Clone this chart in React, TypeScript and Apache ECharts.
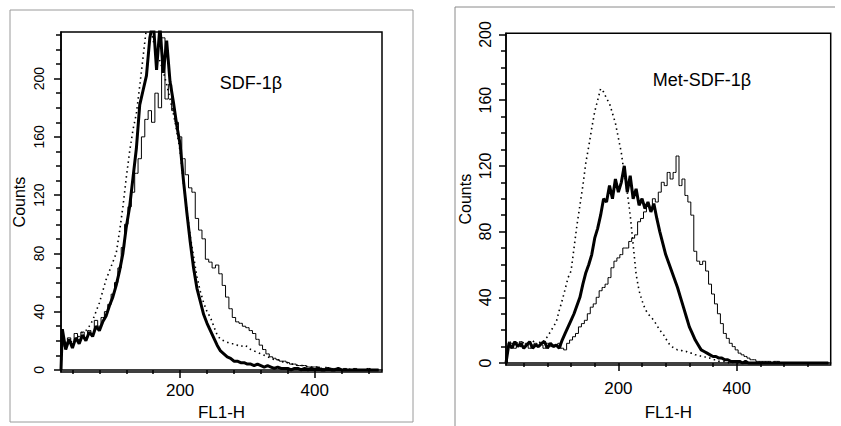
import React, { useEffect, useRef } from "react";
import * as echarts from "echarts";

// ---------- Left panel (SDF-1β) ----------
const leftChannels = [
  23, 25, 30, 35, 40, 45, 50, 55, 60, 65,
  70, 75, 80, 85, 90, 95, 100, 105, 110, 115,
  120, 125, 130, 135, 140, 145, 150, 155, 160, 165,
  170, 175, 180, 185, 190, 195, 200, 205, 210, 215,
  220, 225, 230, 235, 240, 245, 250, 255, 260, 265,
  270, 275, 280, 285, 290, 295, 300, 305, 310, 315,
  320, 325, 330, 335, 340, 345, 350, 355, 360, 365,
  370, 375, 380, 385, 390, 395, 400, 405, 410, 415,
  420, 425, 430, 435, 440, 445, 450, 455, 460, 465,
  470, 475, 480, 485, 490, 495,
];
const leftThick = [
  0, 28, 14, 21, 15, 22, 18, 24, 20, 26,
  23, 30, 27, 33, 37, 44, 50, 58, 68, 80,
  98, 112, 132, 152, 182, 192, 202, 228, 240, 206,
  236, 204, 226, 198, 184, 168, 155, 130, 108, 88,
  70, 56, 47, 38, 32, 27, 22, 17, 13, 11,
  9, 8, 6, 6, 5, 5, 4, 4, 3, 4,
  3, 2, 3, 2, 1, 2, 1, 1, 1, 0,
  1, 1, 0, 1, 0, 1, 0, 1, 0, 0,
  1, 0, 0, 1, 0, 0, 0, 0, 0, 0,
  0, 0, 0, 0, 0, 0,
];
const leftDotted = [
  0, 22, 18, 20, 19, 22, 23, 26, 27, 30,
  34, 40, 46, 54, 62, 68, 74, 80, 95, 112,
  132, 150, 165, 176, 195, 215, 235, 238, 226, 218,
  212, 205, 196, 186, 176, 164, 150, 128, 110, 92,
  78, 64, 54, 46, 40, 36, 30, 24, 21, 20,
  19, 18, 18, 17, 16, 17, 16, 14, 13, 12,
  11, 10, 9, 8, 7, 7, 6, 5, 5, 4,
  4, 3, 3, 3, 2, 2, 2, 2, 1, 2,
  1, 1, 1, 0, 1, 0, 0, 1, 0, 0,
  0, 0, 0, 0, 0, 0,
];
const leftThin = [
  0, 20, 16, 22, 18, 25, 21, 26, 22, 27,
  25, 34, 30, 36, 40, 45, 52, 60, 70, 84,
  100, 112, 122, 135, 145, 160, 172, 178, 170, 190,
  180, 228, 186, 196, 178, 170, 160, 145, 134, 125,
  122, 104, 96, 90, 76, 74, 70, 72, 66, 58,
  50, 42, 36, 33, 32, 30, 29, 27, 25, 21,
  17, 14, 11, 9, 8, 7, 6, 6, 5, 4,
  4, 3, 3, 3, 2, 2, 2, 2, 1, 1,
  1, 1, 1, 1, 0, 1, 0, 0, 1, 0,
  0, 0, 1, 0, 0, 0,
];

// ---------- Right panel (Met-SDF-1β) ----------
const rightChannels = [
  10, 15, 20, 25, 30, 35, 40, 45, 50, 55,
  60, 65, 70, 75, 80, 85, 90, 95, 100, 105,
  110, 115, 120, 125, 130, 135, 140, 145, 150, 155,
  160, 165, 170, 175, 180, 185, 190, 195, 200, 205,
  210, 215, 220, 225, 230, 235, 240, 245, 250, 255,
  260, 265, 270, 275, 280, 285, 290, 295, 300, 305,
  310, 315, 320, 325, 330, 335, 340, 345, 350, 355,
  360, 365, 370, 375, 380, 385, 390, 395, 400, 405,
  410, 415, 420, 425, 430, 435, 440, 445, 450, 455,
  460, 465, 470, 475, 480, 485, 490, 495, 500, 505,
  510, 515, 520, 525, 530, 535, 540, 545, 550, 555,
];
const rightThick = [
  0, 12, 9, 13, 10, 12, 9, 11, 13, 9,
  11, 10, 12, 13, 9, 12, 10, 11, 9, 14,
  18, 22, 26, 30, 35, 40, 48, 55, 60, 66,
  76, 82, 90, 100, 98, 108, 100, 112, 104, 110,
  120, 104, 114, 100, 106, 96, 100, 94, 98, 92,
  97, 88, 80, 73, 66, 61, 56, 51, 46, 40,
  34, 28, 22, 18, 14, 11, 8, 7, 6, 5,
  4, 4, 3, 3, 2, 2, 1, 1, 1, 1,
  0, 1, 0, 0, 0, 0, 0, 0, 0, 0,
  0, 0, 0, 0, 0, 0, 0, 0, 0, 0,
  0, 0, 0, 0, 0, 0, 0, 0, 0, 0,
];
const rightDotted = [
  0, 14, 11, 13, 12, 10, 13, 11, 12, 14,
  11, 13, 12, 14, 16, 19, 22, 25, 32, 38,
  45, 52, 56, 70, 84, 96, 108, 122, 132, 143,
  153, 160, 167, 165, 161, 158, 152, 146, 137, 128,
  115, 104, 90, 72, 54, 44, 38, 33, 30, 28,
  26, 23, 20, 18, 15, 12, 10, 9, 8, 8,
  7, 7, 6, 6, 5, 5, 4, 4, 3, 3,
  2, 2, 1, 1, 1, 0, 1, 0, 0, 0,
  0, 0, 0, 0, 0, 0, 0, 0, 0, 0,
  0, 0, 0, 0, 0, 0, 0, 0, 0, 0,
  0, 0, 0, 0, 0, 0, 0, 0, 0, 0,
];
const rightThin = [
  0, 10, 12, 9, 11, 13, 10, 12, 9, 11,
  12, 10, 11, 9, 12, 10, 11, 10, 12, 9,
  8, 12, 14, 16, 18, 22, 24, 26, 30, 34,
  36, 40, 44, 46, 48, 52, 58, 62, 64, 66,
  70, 70, 74, 76, 78, 86, 88, 92, 96, 94,
  100, 98, 104, 110, 108, 116, 112, 116, 126, 108,
  112, 102, 98, 90, 68, 62, 60, 62, 56, 48,
  42, 36, 30, 24, 18, 15, 12, 10, 8, 6,
  5, 4, 3, 2, 2, 1, 1, 1, 1, 1,
  0, 1, 1, 0, 0, 0, 0, 0, 0, 0,
  0, 0, 0, 0, 0, 0, 0, 0, 0, 0,
];

// ---------- Axis ticks / labels ----------
const xMajor = [200, 400];
const leftXMinor = [40, 80, 120, 160, 240, 280, 320, 360, 440, 480];
const rightXMinor = [40, 80, 120, 160, 240, 280, 320, 360, 440, 480, 520];
const yMajor = [0, 40, 80, 120, 160, 200];
const leftYMinor = [10, 20, 30, 50, 60, 70, 90, 100, 110, 130, 140, 150, 170, 180, 190, 210, 220, 230];
const rightYMinor = [10, 20, 30, 50, 60, 70, 90, 100, 110, 130, 140, 150, 170, 180, 190];

const FONT = "'Liberation Sans', Arial, Helvetica, sans-serif";

const pairs = (xs: number[], ys: number[]) => xs.map((x, i) => [x, ys[i]]);

function majorX(grid: number, min: number, max: number, gap: number, margin: number) {
  return {
    type: "value", gridIndex: grid, min, max, position: "bottom",
    splitLine: { show: false },
    axisLine: { show: true, lineStyle: { color: "#000", width: 1.5 } },
    axisTick: { show: true, customValues: xMajor, length: 8, lineStyle: { color: "#000", width: 1.5 } },
    axisLabel: { show: true, customValues: xMajor, fontSize: 17, color: "#000", fontFamily: FONT, margin },
    name: "FL1-H", nameLocation: "middle", nameGap: gap,
    nameTextStyle: { fontSize: 17, color: "#000", fontFamily: FONT },
  };
}
function minorX(grid: number, min: number, max: number, vals: number[]) {
  return {
    type: "value", gridIndex: grid, min, max, position: "bottom",
    splitLine: { show: false },
    axisLine: { show: false },
    axisTick: { show: true, customValues: vals, length: 4, lineStyle: { color: "#000", width: 1.5 } },
    axisLabel: { show: false },
  };
}
function majorY(grid: number, min: number, max: number, fs: number, margin: number, gap: number) {
  return {
    type: "value", gridIndex: grid, min, max, position: "left",
    splitLine: { show: false },
    axisLine: { show: true, lineStyle: { color: "#000", width: 1.5 } },
    axisTick: { show: true, customValues: yMajor, length: 7, lineStyle: { color: "#000", width: 1.5 } },
    axisLabel: { show: true, customValues: yMajor, rotate: 90, fontSize: fs, color: "#000", fontFamily: FONT, margin },
    name: "Counts", nameLocation: "middle", nameGap: gap,
    nameTextStyle: { fontSize: 16, color: "#000", fontFamily: FONT },
  };
}
function minorY(grid: number, min: number, max: number, vals: number[]) {
  return {
    type: "value", gridIndex: grid, min, max, position: "left",
    splitLine: { show: false },
    axisLine: { show: false },
    axisTick: { show: true, customValues: vals, length: 5, lineStyle: { color: "#000", width: 1.5 } },
    axisLabel: { show: false },
  };
}

function line(name: string, xi: number, yi: number, data: number[][], kind: "thick" | "thin" | "dot") {
  const lineStyle: any =
    kind === "thick" ? { color: "#000", width: 3 } :
    kind === "thin" ? { color: "#000", width: 1 } :
    { color: "#000", width: 1.6, type: [1.5, 3.5] };
  return {
    name, type: "line", xAxisIndex: xi, yAxisIndex: yi, data,
    showSymbol: false, symbol: "none", clip: true,
    step: kind === "thin" ? "middle" : false,
    lineStyle, z: kind === "thick" ? 5 : kind === "thin" ? 4 : 3,
  };
}

export default function App() {
  const ref = useRef<HTMLDivElement>(null);
  useEffect(() => {
    if (!ref.current) return;
    const chart = echarts.init(ref.current, null, { renderer: "svg" });
    const LX: [number, number] = [23, 500];
    const RX: [number, number] = [10, 559];
    const LY: [number, number] = [-1.5, 232];
    const RY: [number, number] = [-1.2, 200.7];
    chart.setOption({
      animation: false,
      backgroundColor: "#fff",
      grid: [
        { left: 61, top: 32, width: 321, height: 345.7, show: true, borderColor: "#000", borderWidth: 1.5, backgroundColor: "transparent" },
        { left: 506, top: 33.3, width: 324.7, height: 339.7, show: true, borderColor: "#000", borderWidth: 1.5, backgroundColor: "transparent" },
      ],
      xAxis: [
        majorX(0, LX[0], LX[1], 31, 10),
        minorX(0, LX[0], LX[1], leftXMinor),
        majorX(1, RX[0], RX[1], 39, 15),
        minorX(1, RX[0], RX[1], rightXMinor),
      ],
      yAxis: [
        majorY(0, LY[0], LY[1], 14, 15, 34),
        minorY(0, LY[0], LY[1], leftYMinor),
        majorY(1, RY[0], RY[1], 16, 13, 33),
        minorY(1, RY[0], RY[1], rightYMinor),
      ],
      series: [
        line("SDF-1β dotted", 0, 0, pairs(leftChannels, leftDotted), "dot"),
        line("SDF-1β thin", 0, 0, pairs(leftChannels, leftThin), "thin"),
        line("SDF-1β thick", 0, 0, pairs(leftChannels, leftThick), "thick"),
        line("Met-SDF-1β dotted", 2, 2, pairs(rightChannels, rightDotted), "dot"),
        line("Met-SDF-1β thin", 2, 2, pairs(rightChannels, rightThin), "thin"),
        line("Met-SDF-1β thick", 2, 2, pairs(rightChannels, rightThick), "thick"),
      ],
      graphic: [
        { type: "rect", shape: { x: 10, y: 10, width: 403, height: 412 }, style: { fill: "none", stroke: "#9a9a9a", lineWidth: 1 }, silent: true },
        { type: "polyline", shape: { points: [[455, 426], [455, 7], [835, 7]] }, style: { fill: "none", stroke: "#8a8a8a", lineWidth: 1 }, silent: true },
        { type: "text", x: 251, y: 83, style: { text: "SDF-1β", fontSize: 18, fontFamily: FONT, fill: "#000", align: "center", verticalAlign: "middle" } },
        { type: "text", x: 702, y: 80, style: { text: "Met-SDF-1β", fontSize: 18, fontFamily: FONT, fill: "#000", align: "center", verticalAlign: "middle" } },
      ],
    });
    return () => chart.dispose();
  }, []);
  return <div ref={ref} style={{ position: "absolute", left: 0, top: 0, width: 841, height: 426 }} />;
}
